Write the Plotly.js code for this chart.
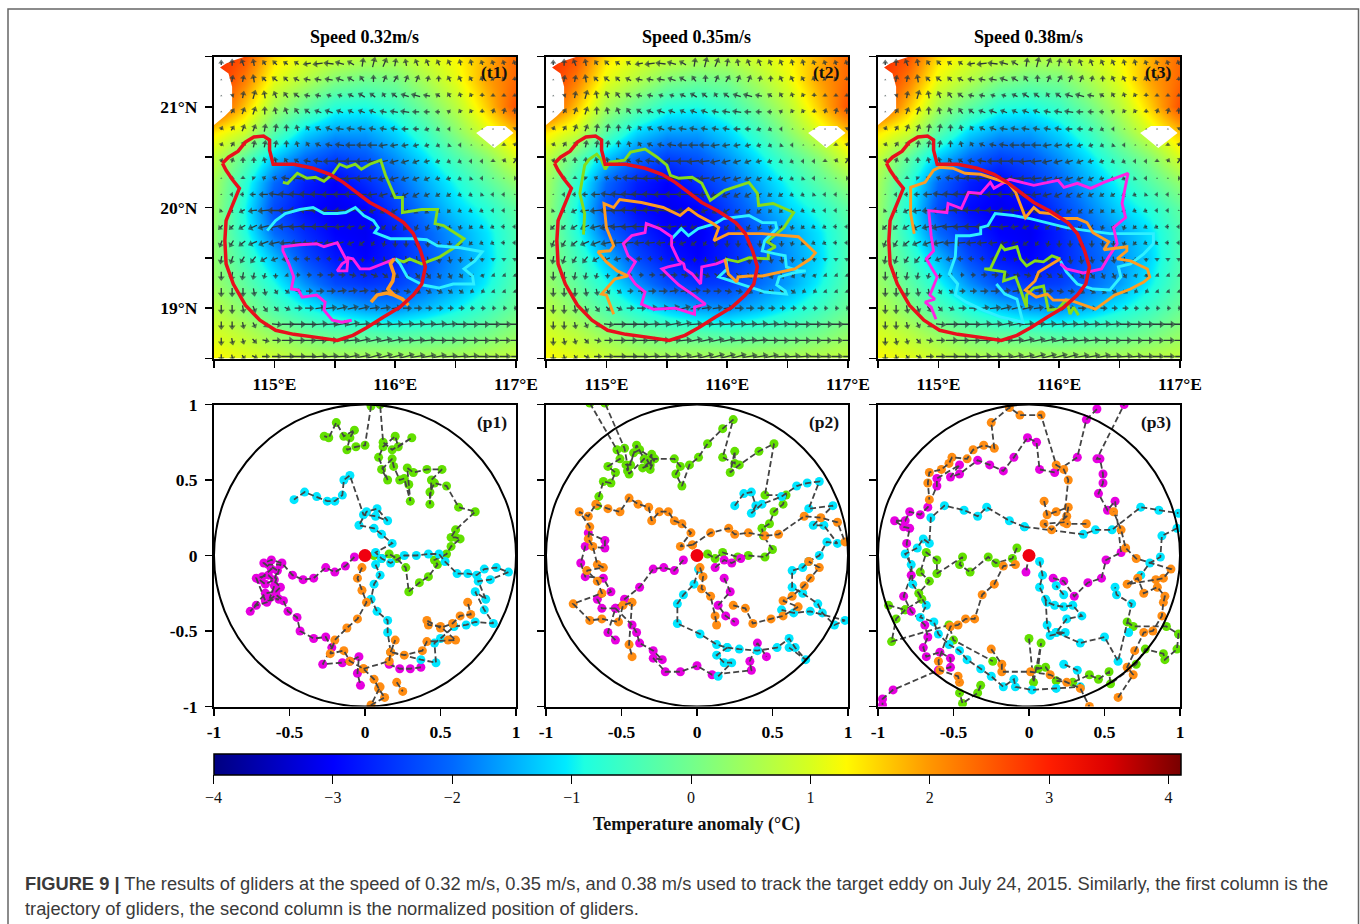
<!DOCTYPE html>
<html><head><meta charset="utf-8"><script src="https://cdn.plot.ly/plotly-3.0.1.min.js"></script>
<style>html,body{margin:0;padding:0;background:#fff}#c{width:1360px;height:924px}</style></head><body><div id="c"></div>
<script>
const lonGrid=[114.5,114.75,115,115.25,115.5,115.75,116,116.25,116.5,116.75,117];
const latGrid=[21.5,21.25,21,20.75,20.5,20.25,20,19.75,19.5,19.25,19,18.75,18.5];
const anomaly=[
[2.9,2.6,1.5,1.1,0.9,0.7,0.7,1.0,1.3,1.8,2.4],
[3,2.2,1.1,0.6,0.1,-0.1,0,0.5,1.1,1.9,2.4],
[2.8,1.7,0.5,-0.2,-0.8,-0.9,-0.6,0,0.7,1.6,2.6],
[1.4,0.9,-0.3,-1.2,-1.6,-1.6,-1.2,-0.6,0.2,1.0,1.7],
[0.8,-0.2,-1.3,-2.0,-2.4,-2.2,-1.7,-1.1,-0.4,0.2,1.0],
[0.5,-0.7,-2.0,-2.7,-3,-2.6,-2.1,-1.5,-0.9,-0.3,0.3],
[0.4,-0.9,-2.3,-2.9,-3.1,-3,-2.4,-1.8,-1.2,-0.8,-0.2],
[0.3,-0.8,-2,-2.6,-3,-3.1,-2.7,-2.1,-1.6,-1.1,-0.4],
[0.3,-0.5,-1.4,-2.3,-2.8,-3,-2.7,-2.2,-1.7,-1.2,-0.4],
[0.4,-0.2,-0.9,-1.7,-2.3,-2.5,-2.4,-2,-1.6,-1,-0.3],
[0.7,0.2,-0.4,-0.9,-1.3,-1.6,-1.7,-1.4,-1,-0.6,-0.1],
[1,0.7,0.3,0,-0.2,-0.3,-0.4,-0.3,-0.2,0,0.3],
[1.3,1.1,0.9,0.7,0.6,0.6,0.6,0.6,0.6,0.7,0.8]];
const landLon=[114.5,114.76,114.66,114.6,114.55,114.62,114.65,114.65,114.59,114.5];
const landLat=[21.5,21.5,21.46,21.43,21.39,21.33,21.2,20.98,20.91,20.82];
const holeLon=[116.67,116.76,116.91,116.98,116.82,116.67];
const holeLat=[20.74,20.81,20.81,20.74,20.59,20.74];
const arrowLon=[114.56,114.65,114.74,114.83,114.92,115.01,115.1,115.19,115.28,115.37,115.46,115.55,115.64,115.73,115.82,115.91,116,116.09,116.18,116.27,116.36,116.45,116.54,116.63,116.72,116.81,116.9,116.99];
const arrowLat=[21.43,21.27,21.11,20.95,20.78,20.62,20.46,20.29,20.13,19.97,19.81,19.65,19.49,19.33,19.17,19,18.84,18.68,18.52];
const arrowU=[
[0,0,-2,-1,-2,-3,-3,-3,-6,-8,-8,-7,-5,1,2,3,1,-1,-2,-2,-2,-2,-1,-1,-1,-1,-1,-1],
[0,1,1,-1,-3,-4,-3,-4,-5,-5,-6,-6,-5,-3,0,2,3,2,2,1,0,-2,-2,-2,-1,-1,-1,0],
[0,1,1,2,-1,-2,-3,-4,-4,-4,-3,-3,-4,-5,-4,-2,-4,-6,-7,-5,-3,-2,-1,-1,0,0,0,0],
[0,2,2,2,0,-1,-2,-3,-4,-5,-6,-5,-4,-5,-5,-5,-6,-7,-5,-4,-3,-2,-1,-1,0,1,1,0],
[1,2,2,2,1,1,0,-1,-2,-4,-5,-6,-6,-6,-5,-5,-5,-5,-4,-3,-2,-1,0,0,0,0,0,1],
[1,2,2,1,1,1,0,-1,-2,-4,-5,-7,-8,-8,-8,-7,-6,-5,-4,-3,-2,-1,-1,0,0,0,0,1],
[1,1,0,0,-1,-1,-2,-3,-5,-7,-9,-10,-10,-10,-9,-8,-7,-6,-5,-4,-3,-2,-2,-1,-1,0,1,3],
[0,0,0,-1,-2,-3,-6,-9,-11,-12,-12,-12,-11,-10,-9,-8,-7,-6,-5,-4,-3,-3,-2,-1,-1,0,0,1],
[0,-1,-2,-4,-7,-9,-11,-12,-13,-13,-12,-11,-10,-9,-8,-7,-6,-5,-5,-4,-3,-3,-2,-2,-1,-1,-1,0],
[-1,-2,-4,-7,-9,-11,-12,-13,-13,-12,-11,-9,-8,-7,-5,-5,-5,-4,-3,-3,-2,-2,-2,-2,-2,-1,-1,0],
[-3,-3,-5,-7,-9,-11,-12,-12,-12,-11,-10,-8,-6,-5,-4,-3,-3,-3,-2,-2,-1,-1,-1,-2,-2,-2,-2,-1],
[-2,-3,-5,-7,-8,-9,-9,-9,-8,-8,-7,-6,-5,-4,-2,-1,0,0,0,0,0,0,-1,-2,-2,-2,-2,-1],
[-1,-2,-3,-4,-5,-5,-5,-4,-4,-3,-3,-2,-1,0,0,1,2,1,1,1,1,1,0,0,0,0,0,0],
[0,-1,-1,-1,-1,0,1,2,3,4,5,5,5,5,5,4,4,4,3,3,2,2,2,1,1,1,1,1],
[0,0,0,1,1,2,3,4,5,6,7,7,7,7,6,6,5,5,4,4,4,3,3,2,2,1,1,1],
[0,0,1,2,3,3,4,6,7,8,9,9,9,9,8,8,8,7,6,5,5,4,4,3,3,2,2,2],
[0,0,1,2,3,8,11,12,12,12,12,12,11,11,11,11,11,11,11,11,11,10,10,10,10,10,10,10],
[0,1,1,3,5,7,10,11,11,11,11,11,11,11,11,11,11,11,11,11,11,10,10,10,10,9,9,9],
[0,1,2,4,6,8,11,12,12,12,12,12,11,11,12,12,12,12,12,12,11,11,11,10,10,9,9,8]];
const arrowV=[
[3,5,5,5,3,3,2,2,-1,-1,1,2,3,7,8,7,6,5,5,5,4,4,4,4,3,3,3,3],
[0,5,5,6,3,3,3,2,1,1,1,2,3,4,5,5,5,5,5,4,4,4,4,3,3,2,2,2],
[0,1,5,7,6,5,4,3,1,1,1,1,2,3,3,3,3,2,2,1,2,3,3,2,2,1,1,1],
[0,3,5,6,6,5,5,4,3,2,2,2,2,2,2,1,1,1,0,0,0,1,2,2,2,3,4,4],
[2,3,5,5,6,6,5,4,3,2,2,1,1,1,1,1,1,0,0,-1,-1,0,0,0,0,0,0,1],
[2,3,4,5,5,5,5,4,3,2,1,1,0,0,0,-1,-1,-1,-1,-1,-1,-1,0,0,0,0,1,2],
[2,3,4,4,4,4,3,2,1,1,0,0,0,-1,-1,-2,-2,-2,-2,-1,-1,-1,-1,0,0,1,2,4],
[0,1,1,1,1,1,1,1,1,0,0,0,-1,-1,-1,-2,-2,-2,-2,-2,-1,-1,-1,-1,0,0,0,0],
[0,0,0,0,0,1,1,1,1,1,0,0,0,0,-1,-2,-3,-3,-3,-2,-2,-2,-1,-1,-1,0,0,0],
[-1,-1,-2,-1,-1,0,0,1,1,1,1,0,0,-1,-2,-3,-3,-3,-3,-3,-2,-2,-1,-1,-1,0,0,0],
[-3,-3,-3,-3,-2,-2,-1,-1,0,0,0,-1,-1,-2,-2,-3,-4,-4,-4,-4,-3,-3,-3,-2,-1,-1,0,0],
[-5,-5,-4,-3,-3,-2,-1,-1,-1,-1,-1,-2,-2,-3,-3,-4,-5,-5,-5,-5,-4,-4,-3,-2,-1,-1,0,0],
[-6,-6,-5,-5,-3,-2,-1,0,0,0,0,-1,-2,-3,-4,-5,-5,-6,-6,-5,-5,-5,-4,-3,-2,-1,-1,-1],
[-7,-7,-6,-5,-4,-3,-1,0,0,0,0,0,-1,-1,-2,-3,-3,-4,-4,-4,-4,-4,-3,-2,-2,-1,-1,-1],
[-7,-7,-7,-6,-5,-3,-2,0,0,0,0,1,1,1,0,0,-1,-1,-2,-2,-2,-2,-2,-1,-1,-1,-1,-1],
[-7,-7,-6,-5,-4,-3,-2,0,0,1,1,2,2,2,1,1,1,0,0,0,0,0,0,0,0,0,0,0],
[-6,-6,-5,-4,-3,-1,0,0,0,1,1,2,2,1,1,1,1,1,1,1,1,1,0,0,0,0,0,0],
[-6,-5,-4,-3,-1,0,0,0,0,0,0,1,1,2,2,2,2,1,1,1,0,0,0,0,0,0,0,0],
[-5,-4,-3,-2,0,0,0,0,0,1,1,1,2,2,3,3,3,3,2,2,2,1,1,1,0,0,0,0]];
const eddyLon=[114.57,114.62,114.7,114.76,114.83,114.91,114.96,114.96,114.99,115.16,115.32,115.46,115.57,115.68,115.79,115.93,116.07,116.15,116.21,116.25,116.22,116.15,116.04,115.9,115.77,115.65,115.52,115.35,115.16,115.01,114.88,114.76,114.66,114.6,114.59,114.6,114.67,114.71,114.65,114.6,114.57];
const eddyLat=[20.44,20.5,20.56,20.65,20.7,20.71,20.67,20.57,20.43,20.43,20.39,20.33,20.25,20.15,20.05,19.96,19.85,19.74,19.57,19.41,19.24,19.13,19.01,18.91,18.81,18.73,18.68,18.71,18.74,18.78,18.88,19.03,19.24,19.44,19.67,19.87,20.07,20.19,20.28,20.37,20.44];
const t1GreenLon=[115.07,115.11,115.19,115.27,115.34,115.41,115.48,115.54,115.6,115.67,115.72,115.79,115.88,115.92,116,116.06,116.06,116.15,116.22,116.35,116.33,116.4,116.51,116.57,116.5,116.37,116.22,116.12,116.07,116];
const t1GreenLat=[20.25,20.24,20.34,20.29,20.3,20.26,20.33,20.43,20.4,20.43,20.38,20.43,20.47,20.32,20.1,20.1,19.95,19.97,19.98,19.98,19.84,19.82,19.74,19.69,19.61,19.51,19.44,19.49,19.46,19.49];
const t1CyanLon=[114.94,115.01,115.09,115.21,115.32,115.41,115.52,115.59,115.67,115.74,115.82,115.86,115.83,115.96,116.15,116.26,116.35,116.54,116.72,116.66,116.57,116.64,116.65,116.48,116.36,116.23,116.1,116.04,116];
const t1CyanLat=[19.77,19.87,19.94,19.98,20,19.94,19.94,19.95,20,19.92,19.87,19.8,19.75,19.69,19.69,19.68,19.62,19.6,19.56,19.47,19.39,19.32,19.24,19.24,19.2,19.23,19.31,19.44,19.49];
const t1MagentaLon=[115.64,115.56,115.48,115.41,115.42,115.35,115.23,115.2,115.14,115.16,115.12,115.07,115.07,115.21,115.35,115.41,115.52,115.57,115.6,115.56,115.52,115.6,115.61,115.65,115.71,115.79,115.89,116];
const t1MagentaLat=[18.88,18.86,18.88,18.98,19.06,19.13,19.11,19.18,19.19,19.31,19.44,19.57,19.61,19.63,19.64,19.61,19.65,19.54,19.47,19.44,19.37,19.37,19.5,19.49,19.39,19.39,19.44,19.49];
const t1OrangeLon=[115.99,115.96,115.99,115.98,115.94,115.99,116.06,116.11,116.06,115.99,115.93,115.85,115.8];
const t1OrangeLat=[19.49,19.44,19.34,19.27,19.19,19.13,19.09,19.03,19.09,19.13,19.15,19.13,19.06];
const t2GreenLon=[114.81,114.82,114.78,114.8,114.82,114.86,114.92,114.96,114.99,115.03,115.15,115.2,115.32,115.42,115.5,115.53,115.6,115.71,115.79,115.86,115.98,116.18,116.25,116.26,116.38,116.55,116.47,116.33,116.4,116.34,116.34,116.18,116.09,115.98];
const t2GreenLat=[19.73,19.94,20.14,20.28,20.42,20.48,20.53,20.47,20.38,20.45,20.47,20.55,20.58,20.5,20.42,20.32,20.29,20.3,20.24,20.07,20.17,20.25,20.14,20.02,20.04,19.95,19.8,19.66,19.61,19.57,19.49,19.5,19.46,19.49];
const t2OrangeLon=[115.06,115,114.96,115.03,115.07,115.18,115.09,115,114.93,115.03,115.06,115,114.98,115.06,115.11,115.29,115.47,115.61,115.68,115.76,115.87,115.93,115.89,116.01,116.29,116.59,116.65,116.73,116.69,116.56,116.29,116.18,116.09,116.08,116.01,115.98];
const t2OrangeLat=[18.94,19.13,19.14,19.24,19.29,19.32,19.37,19.46,19.56,19.57,19.62,19.8,20.04,20,20.08,20.05,20,19.92,19.99,19.92,19.85,19.8,19.67,19.74,19.74,19.71,19.64,19.55,19.49,19.39,19.32,19.32,19.31,19.26,19.34,19.49];
const t2CyanLon=[115.54,115.62,115.68,115.76,115.9,115.97,116.18,116.29,116.4,116.41,116.31,116.29,116.4,116.48,116.49,116.59,116.65,116.55,116.43,116.41,116.48,116.49,116.31,116.18,116.04,115.93,116,115.99];
const t2CyanLat=[19.69,19.79,19.72,19.79,19.84,19.89,19.92,19.85,19.85,19.79,19.67,19.57,19.54,19.52,19.41,19.37,19.37,19.35,19.31,19.23,19.17,19.14,19.16,19.21,19.26,19.31,19.39,19.49];
const t2MagentaLon=[115.99,115.91,115.79,115.78,115.71,115.65,115.64,115.6,115.54,115.54,115.44,115.33,115.32,115.21,115.14,115.18,115.24,115.18,115.24,115.32,115.29,115.39,115.57,115.73,115.73,115.82,115.71,115.6,115.53,115.46,115.51,115.62];
const t2MagentaLat=[19.48,19.44,19.41,19.24,19.34,19.39,19.44,19.47,19.62,19.71,19.79,19.84,19.75,19.72,19.64,19.52,19.46,19.34,19.24,19.16,19.04,18.99,19,18.94,19.01,19.04,19.14,19.23,19.31,19.39,19.41,19.44];
const t3OrangeLon=[114.8,114.77,114.77,114.89,114.96,115.01,115.12,115.22,115.35,115.5,115.58,115.64,115.68,115.72,115.79,115.84,115.93,116,116.15,116.23,116.28,116.34,116.41,116.37,116.56,116.56,116.48,116.59,116.73,116.75,116.7,116.59,116.46,116.38,116.3,116.09,115.95,115.9,115.81,115.72,115.8,115.83,115.9,116.01];
const t3OrangeLat=[19.74,19.94,20.2,20.25,20.37,20.4,20.39,20.34,20.33,20.27,20.24,20.15,20.02,19.9,20,19.95,19.94,19.89,19.89,19.85,19.75,19.71,19.66,19.58,19.61,19.57,19.49,19.47,19.39,19.31,19.26,19.19,19.13,19.06,18.99,19.08,19.08,19.14,19.11,19.18,19.27,19.36,19.41,19.49];
const t3MagentaLon=[114.98,114.94,114.89,114.97,114.93,114.99,114.94,114.9,114.96,114.94,114.92,115.07,115.08,115.19,115.25,115.35,115.43,115.46,115.59,115.79,115.99,116.04,116.15,116.26,116.37,116.57,116.52,116.55,116.45,116.48,116.41,116.35,116.2,116.06,116.01];
const t3MagentaLat=[18.89,19.01,19.06,19.09,19.13,19.31,19.41,19.49,19.57,19.72,19.97,19.95,20.04,19.99,20.15,20.14,20.25,20.19,20.28,20.22,20.27,20.2,20.24,20.19,20.25,20.34,20.04,19.9,19.8,19.64,19.51,19.39,19.35,19.39,19.44];
const t3CyanLon=[115.48,115.55,115.65,115.7,115.52,115.37,115.23,115.14,115.16,115.09,115.14,115.15,115.26,115.35,115.35,115.41,115.47,115.62,115.76,115.93,116.06,116.23,116.42,116.78,116.78,116.7,116.59,116.49,116.51,116.42,116.28,116.15,116.06,116.01];
const t3CyanLat=[19.24,19.14,19.09,18.86,18.91,18.98,19.06,19.13,19.24,19.34,19.51,19.72,19.72,19.74,19.8,19.82,19.94,19.92,19.89,19.84,19.8,19.77,19.74,19.74,19.64,19.54,19.44,19.41,19.31,19.18,19.19,19.24,19.36,19.47];
const t3GreenLon=[116.01,115.94,115.87,115.8,115.73,115.68,115.65,115.55,115.52,115.46,115.43,115.38,115.5,115.55,115.54,115.64,115.68,115.73,115.73,115.79,115.87,115.89,115.91,115.99,116.06,116.09,116.12,116.16];
const t3GreenLat=[19.49,19.52,19.46,19.47,19.42,19.49,19.61,19.58,19.62,19.47,19.39,19.39,19.37,19.36,19.27,19.31,19.18,19.01,19.13,19.2,19.22,19.09,18.98,18.99,19.09,18.94,19.01,18.93];
const _=null;
const p1GreenX=[.06,.11,.16,.21,.27,.29,.36,.42,.48,.46,.54,.57,.63,.6,.57,.6,.73,.62,.54,.46,.43,.43,.44,.51,.41,.32,.28,.29,.3,.26,.23,.19,.18,.11,.15,.09,.12,.2,.22,.31,.18,.12,.1,_,.04,0,-.06,-.12,-.1,-.07,-.14,-.19,-.24,-.27];
const p1GreenY=[0,-.02,.01,-.02,-.08,-.24,-.18,-.14,-.06,-.03,.01,.06,.11,.12,.12,.17,.29,.32,.46,.48,.42,.34,.5,.57,.57,.55,.58,.47,.36,.51,.5,.59,.64,.57,.5,.65,.72,.79,.72,.78,.7,.75,1,_,.99,.73,.72,.7,.78,.83,.79,.88,.78,.79];
const p1MagentaX=[-.07,-.13,-.2,-.26,-.34,-.41,-.48,-.55,-.62,-.67,-.62,-.68,-.7,-.66,-.6,-.58,-.64,-.56,-.6,-.63,-.57,-.66,-.72,-.64,-.56,-.59,-.66,-.76,-.72,-.65,-.59,-.54,-.51,-.45,-.43,-.34,-.26,-.22,-.28,-.15,-.1,-.04,-.05,-.03,_,.16,.23,.3,.37];
const p1MagentaY=[-.01,-.07,-.11,-.08,-.15,-.16,-.13,-.05,-.03,-.05,-.09,-.14,-.16,-.19,-.16,-.1,-.06,-.06,-.2,-.28,-.29,-.3,-.15,-.13,-.21,-.24,-.25,-.37,-.33,-.31,-.26,-.3,-.37,-.41,-.5,-.55,-.54,-.61,-.72,-.71,-.7,-.67,-.78,-.86,_,-.72,-.75,-.75,-.74];
const p1OrangeX=[-.02,-.05,-.02,.01,-.05,-.12,-.2,-.23,-.14,-.1,-.01,.06,.09,.13,.04,.1,_,-.01,.16,.17,.2,.17,.26,.38,.41,.55,.6,.5,.42,.41,.5,.58,.63,.7,.68,_,.21,.25];
const p1OrangeY=[-.08,-.15,-.23,-.31,-.42,-.48,-.56,-.65,-.63,-.7,-.75,-.82,-.88,-.94,-.99,-.87,_,-.75,-.7,-.64,-.56,-.64,-.66,-.63,-.57,-.56,-.56,-.47,-.46,-.43,-.48,-.45,-.4,-.39,-.31,_,-.84,-.9];
const p1CyanX=[.07,.1,.06,.04,.08,.15,.15,.17,.37,.47,.46,.5,.59,.67,.73,.85,.79,.73,.8,.75,.83,.95,.87,.79,.74,.68,.61,.53,.49,.42,.34,.26,.17,.11,.07,.18,.11,.06,-.04,.01,.08,.15,.07,-.01,-.1,-.14,-.15,-.2,-.25,-.32,-.4,-.47];
const p1CyanY=[-.06,-.13,-.19,-.29,-.37,-.43,-.51,-.64,-.69,-.71,-.58,-.55,-.47,-.46,-.44,-.45,-.36,-.24,-.29,-.17,-.16,-.11,-.08,-.09,-.13,-.12,-.12,-.04,.01,.01,0,0,-.05,-.02,.02,.08,.14,.18,.2,.29,.31,.23,.26,.27,.53,.5,.4,.36,.36,.39,.42,.37];
const p2GreenX=[.07,.12,.17,.27,.34,.45,.5,.44,.43,.48,.51,.57,.59,.45,.51,.41,.28,.22,.25,.25,.17,.24,.17,.07,.01,-.05,-.1,-.14,-.11,-.15,-.28,-.31,-.3,-.33,-.31,-.36,-.29,-.38,-.42,-.44,-.47,-.46,-.4,-.35,-.45,-.48,-.61,_,-.71,-.53,-.51,-.59,-.54,-.57,-.62,-.65,-.66];
const p2GreenY=[.01,-.02,.02,-.01,0,-.01,.04,.13,.18,.21,.29,.34,.4,.4,.74,.69,.6,.55,.69,.61,.65,.9,.84,.74,.65,.6,.46,.54,.59,.64,.64,.57,.67,.63,.6,.58,.64,.7,.68,.6,.6,.56,.73,.64,.54,.71,1.01,_,1.01,.7,.64,.59,.55,.48,.49,.39,.33];
const p2OrangeX=[.02,.04,.03,.09,.12,.13,_,-.03,-.11,-.04,-.1,-.15,-.19,-.25,-.3,-.32,-.39,-.45,-.51,-.59,-.67,-.72,-.78,-.71,-.72,-.69,-.66,-.62,-.73,-.66,-.63,-.82,-.71,-.63,-.52,-.49,-.43,-.45,-.43,_,-.03,.09,.21,.25,.34,.45,.54,.71,.82,.93,.98,_,.24,.32,.37,.49,.57,.67,.57,.63,.71,.75,.81,.74];
const p2OrangeY=[-.08,-.14,-.22,-.27,-.4,-.46,_,.07,.06,.15,.21,.23,.29,.29,.23,.32,.34,.38,.29,.31,.34,.26,.29,.19,.11,.06,-.06,-.08,-.1,-.17,-.25,-.32,-.43,-.42,-.44,-.33,-.31,-.59,-.67,_,.07,.15,.18,.14,.15,.13,.14,.26,.25,.22,.09,_,-.33,-.35,-.45,-.42,-.4,-.34,-.3,-.27,-.2,-.15,-.08,-.04];
const p2MagentaX=[-.09,-.15,-.22,-.29,-.38,-.48,-.54,-.43,-.4,-.38,-.29,-.23,-.29,-.21,-.11,0,.1,.36,.35,.4,.46,_,-.54,-.59,-.54,-.63,-.66,-.57,-.62,-.74,-.77,-.74,-.61,-.61,-.72,_,.12,.18,.23,.29,_,.18,.22,.14,.19,.25];
const p2MagentaY=[-.03,-.1,-.08,-.09,-.21,-.29,-.35,-.46,-.51,-.58,-.63,-.69,-.68,-.77,-.77,-.73,-.79,-.76,-.7,-.58,-.67,_,-.56,-.51,-.35,-.35,-.29,-.24,-.15,-.14,-.05,.06,.05,.1,.15,_,-.08,-.03,-.05,-.02,_,-.15,-.24,-.33,-.4,-.44];
const p2CyanX=[.01,-.02,-.09,-.13,-.13,.02,.13,.2,.28,.4,.53,.61,.65,.72,.61,_,.14,.23,.18,.13,.2,_,.25,.31,.36,.39,.36,.43,.56,.66,.73,.81,.74,.9,.77,.84,.93,.86,.81,.74,.7,.63,.63,.7,.8,.83,.91,.98,.75,.64,.56];
const p2CyanY=[-.09,-.19,-.26,-.32,-.45,-.52,-.59,-.61,-.62,-.63,-.61,-.55,-.61,-.69,-.61,_,-.8,-.71,-.71,-.66,-.61,_,.33,.41,.42,.33,.28,.34,.39,.46,.48,.49,.31,.33,.2,.2,.08,.09,0,-.04,-.08,-.1,-.21,-.25,-.32,-.38,-.46,-.43,-.37,-.38,-.36];
const p3OrangeX=[-.09,-.17,-.23,-.31,-.36,-.42,-.47,-.52,-.6,-.59,-.47,-.46,_,.1,.12,.18,.26,.25,.15,.1,.23,.26,.23,.18,.08,-.06,-.13,-.25,-.23,-.3,-.37,-.41,-.51,-.53,-.58,-.66,-.67,-.66,_,.38,.25,_,-.25,-.18,-.18,.01,.14,.25,.34,.4,_,.59,.69,.65,.7,.76,.82,.88,.89,.9,.85,.76,.72,.65,.84,.89,.94,.71,.64,.61,.56];
const p3OrangeY=[-.06,-.07,-.19,-.26,-.42,-.42,-.46,-.47,-.7,-.76,-.8,-.84,_,.36,.27,.29,.32,.26,.17,.21,.22,.5,.57,.6,.93,.93,.98,.88,.71,.73,.7,.64,.65,.61,.57,.55,.48,.37,_,.21,.21,_,-.62,-.72,-.77,-.77,-.79,-.84,-.88,-1,_,-.94,-.79,-.74,-.63,-.51,-.5,-.4,-.31,-.27,-.21,-.25,-.15,-.19,-.16,-.15,-.09,-.02,.05,.17,.29];
const p3CyanX=[.07,.09,.07,.12,.17,.23,.29,.35,.25,.18,.24,.14,.12,.11,_,.23,.18,_,.18,.34,.5,.59,.68,.58,.57,_,.66,_,-.03,-.13,-.28,-.34,-.43,-.56,-.65,-.66,-.7,-.74,-.82,-.78,-.77,-.68,-.72,-.63,-.6,-.53,-.46,-.41,-.32,-.25,-.17,-.1,-.09,.02,.18,.34,.32,.23,_,-.03,.36,.44,.55,.74,.86,.99,_,.98,.88,.87,.8,.74];
const p3CyanY=[-.04,-.13,-.21,-.31,-.33,-.34,-.33,-.4,-.42,-.51,-.51,-.53,-.46,-.29,_,-.26,-.2,_,-.51,-.58,-.54,-.7,-.32,-.26,-.21,_,-.51,_,.19,.23,.32,.26,.3,.33,.25,.08,.11,.05,.01,-.06,-.19,-.33,-.41,-.44,-.52,-.59,-.63,-.69,-.75,-.8,-.87,-.82,-.87,-.89,-.88,-.87,-.76,-.72,_,.19,.14,.17,.17,.32,.3,.28,_,.18,.13,-.01,-.05,-.13];
const p3MagentaX=[0,-.02,_,.16,.23,.3,.39,.48,.51,.61,.57,.52,.46,.49,.49,.47,.45,.63,_,.45,.38,.32,.17,.07,.05,-.01,-.1,-.17,-.26,-.34,-.46,-.52,-.46,-.61,-.61,-.67,-.72,-.79,-.82,-.89,-.83,-.79,-.81,-.78,-.83,-.78,-.69,-.67,-.7,-.68,-.59,-.52,-.52,-.6,-.9,-.97,-.97];
const p3MagentaY=[0,-.11,_,-.15,-.17,-.27,-.18,-.15,-.03,.02,.36,.3,.41,.48,.54,.64,.64,1,_,.97,.9,.65,.55,.57,.75,.78,.65,.56,.6,.63,.54,.52,.6,.51,.46,.32,.27,.29,.23,.23,.19,.18,.08,-.13,-.27,-.37,-.46,-.54,-.61,-.67,-.64,-.68,-.74,-.76,-.89,-.95,-.99];
const p3GreenX=[-.08,-.11,-.22,-.27,-.39,-.46,-.44,-.61,-.61,-.68,-.72,-.66,-.73,-.71,-.82,-.88,-.91,-.53,-.5,-.24,_,-.93,-.82,_,0,.03,.08,.06,.11,.18,.29,.4,.46,.53,.54,.71,.77,.89,.9,.98,.99,.91,.69,.65,_,-.32,-.34,-.44,-.46];
const p3GreenY=[.05,-.02,-.05,-.01,-.11,-.06,-.01,-.12,-.03,.02,-.11,-.17,-.25,-.29,-.36,-.42,-.57,-.46,-.56,-.7,_,-.33,-.36,_,-.55,-.84,-.58,-.75,-.74,-.83,-.84,-.79,-.82,-.77,-.85,-.72,-.62,-.65,-.69,-.62,-.52,-.47,-.47,-.44,_,-.86,-.91,-.98,-.91];
const anomalyTicks=[-4,-3,-2,-1,0,1,2,3,4];
const panelLabels=['(t1)','(t2)','(t3)','(p1)','(p2)','(p3)'];
const speedTitles=['Speed 0.32m/s','Speed 0.35m/s','Speed 0.38m/s'];

const W=1360,H=924,SERIF='"Liberation Serif",serif';
const px=x=>x/W, py=y=>1-y/H;
const colX=[[214,516],[546,848],[878,1180]];
const rowY=[[56.5,358.5],[404.5,706.5]];
const cols={g:'#62e000',c:'#00e6ff',m:'#e600e0',o:'#ff8c12'};
const lineCols={g:'#86dd1a',c:'#2ff0ff',m:'#ff22e4',o:'#ff9c22'};
const traces=[];
const scale=[[0,'rgb(0,0,128)'],[.1235,'rgb(0,0,255)'],[.247,'rgb(0,105,255)'],[.364,'rgb(0,235,255)'],[.383,'rgb(30,255,225)'],[.494,'rgb(115,255,140)'],[.617,'rgb(215,255,30)'],[.654,'rgb(255,250,0)'],[.741,'rgb(255,150,0)'],[.864,'rgb(255,30,0)'],[.926,'rgb(220,0,0)'],[1,'rgb(120,0,0)']];
const sx=[],sy=[],hx=[],hy=[],ha=[],hs=[];
arrowLat.forEach((la,r)=>arrowLon.forEach((lo,c)=>{
  const u=arrowU[r][c],v=arrowV[r][c],du=u*.9/121,dv=v*.9/100.5,len=Math.hypot(u,v);
  sx.push(lo-du/2,lo+du/2,null);sy.push(la-dv/2,la+dv/2,null);
  hx.push(lo+du/2);hy.push(la+dv/2);ha.push(Math.atan2(u,v)*180/Math.PI);hs.push(len<1?2:4.5+Math.min(len,10)*.22);
}));
[0,1,2].forEach(i=>{
  const ax=i?String(i+1):'',xa='x'+ax,ya='y'+ax;
  const hm={type:'heatmap',x:lonGrid,y:latGrid,z:anomaly,xaxis:xa,yaxis:ya,zmin:-4,zmax:4.1,zsmooth:'best',colorscale:scale,showscale:i===0,hoverinfo:'skip'};
  if(i===0)hm.colorbar={orientation:'h',x:px(213.5),xanchor:'left',y:py(754),yanchor:'top',len:967,lenmode:'pixels',thickness:21,thicknessmode:'pixels',xpad:0,ypad:0,outlinewidth:1.5,outlinecolor:'#000',tickmode:'array',tickvals:anomalyTicks,ticks:'outside',ticklen:9,tickcolor:'#000',tickfont:{family:SERIF,size:16,color:'#111'}};
  traces.push(hm);
  [[landLon,landLat],[holeLon,holeLat]].forEach(([a,b])=>traces.push({type:'scatter',x:a,y:b,xaxis:xa,yaxis:ya,mode:'lines',fill:'toself',fillcolor:'#fff',line:{width:0},hoverinfo:'skip'}));
  traces.push({type:'scatter',x:sx,y:sy,xaxis:xa,yaxis:ya,mode:'lines',line:{color:'#2c3a3a',width:1.3},hoverinfo:'skip',connectgaps:false});
  traces.push({type:'scatter',x:hx,y:hy,xaxis:xa,yaxis:ya,mode:'markers',marker:{symbol:'triangle-up',size:hs,angle:ha,color:'#2c3a3a',line:{width:0}},hoverinfo:'skip'});
});
function tline(i,lon,lat,c,w){const ax=i?String(i+1):'';traces.push({type:'scatter',x:lon,y:lat,xaxis:'x'+ax,yaxis:'y'+ax,mode:'lines',line:{color:c,width:w||2.9},hoverinfo:'skip'});}
tline(0,t1GreenLon,t1GreenLat,lineCols.g);tline(0,t1CyanLon,t1CyanLat,lineCols.c);tline(0,t1MagentaLon,t1MagentaLat,lineCols.m);tline(0,t1OrangeLon,t1OrangeLat,lineCols.o,3.6);
tline(1,t2GreenLon,t2GreenLat,lineCols.g);tline(1,t2CyanLon,t2CyanLat,lineCols.c);tline(1,t2MagentaLon,t2MagentaLat,lineCols.m);tline(1,t2OrangeLon,t2OrangeLat,lineCols.o);
tline(2,t3CyanLon,t3CyanLat,lineCols.c);tline(2,t3MagentaLon,t3MagentaLat,lineCols.m);tline(2,t3GreenLon,t3GreenLat,lineCols.g);tline(2,t3OrangeLon,t3OrangeLat,lineCols.o);
[0,1,2].forEach(i=>tline(i,eddyLon,eddyLat,'#e8101c',3.5));
function pser(i,x,y,c){const ax=String(i+4);
  traces.push({type:'scatter',x:x,y:y,xaxis:'x'+ax,yaxis:'y'+ax,mode:'markers',marker:{color:c,size:9,line:{width:0}},hoverinfo:'skip'});
  traces.push({type:'scatter',x:x,y:y,xaxis:'x'+ax,yaxis:'y'+ax,mode:'lines',line:{color:'#444',width:1.8,dash:'6px,3px'},hoverinfo:'skip'});}
pser(0,p1GreenX,p1GreenY,cols.g);pser(0,p1MagentaX,p1MagentaY,cols.m);pser(0,p1CyanX,p1CyanY,cols.c);pser(0,p1OrangeX,p1OrangeY,cols.o);
pser(1,p2GreenX,p2GreenY,cols.g);pser(1,p2MagentaX,p2MagentaY,cols.m);pser(1,p2CyanX,p2CyanY,cols.c);pser(1,p2OrangeX,p2OrangeY,cols.o);
pser(2,p3GreenX,p3GreenY,cols.g);pser(2,p3MagentaX,p3MagentaY,cols.m);pser(2,p3CyanX,p3CyanY,cols.c);pser(2,p3OrangeX,p3OrangeY,cols.o);
[0,1,2].forEach(i=>{const ax=String(i+4);traces.push({type:'scatter',x:[0],y:[0],xaxis:'x'+ax,yaxis:'y'+ax,mode:'markers',marker:{color:'#f0000f',size:13,line:{width:0}},hoverinfo:'skip'});});

const layout={width:W,height:H,margin:{l:0,r:0,t:0,b:0},paper_bgcolor:'#fff',plot_bgcolor:'#fff',showlegend:false,annotations:[],
 shapes:[{type:'path',xref:'paper',yref:'paper',path:`M ${px(8)} ${py(924)} L ${px(8)} ${py(9)} L ${px(1358.5)} ${py(9)} L ${px(1358.5)} ${py(924)}`,line:{color:'#666',width:1.5}}]};
const lblFont={family:SERIF,size:17.5,color:'#000',weight:700};
const axBase={showgrid:false,zeroline:false,showline:true,mirror:true,linecolor:'#000',linewidth:2,ticks:'outside',ticklen:7,tickwidth:1.5,tickcolor:'#000',tickfont:lblFont,tickmode:'array',fixedrange:true};
const lonT=[114.5,115,115.5,116,116.5,117],lonL=['','115°E','','116°E','','117°E'];
const latT=[18.5,19,19.5,20,20.5,21,21.5],latL=['','19°N','','20°N','','21°N',''];
const nT=[-1,-.5,0,.5,1],nL=['-1','-0.5','0','0.5','1'];
for(let n=0;n<6;n++){
  const c=n%3,r=n<3?0:1,ax=n?String(n+1):'';
  layout['xaxis'+ax]=Object.assign({},axBase,{domain:[px(colX[c][0]),px(colX[c][1])],anchor:'y'+ax,range:r?[-1,1]:[114.5,117],tickvals:r?nT:lonT,ticktext:r?nL:lonL,ticklabelstandoff:1});
  layout['yaxis'+ax]=Object.assign({},axBase,{domain:[py(rowY[r][1]),py(rowY[r][0])],anchor:'x'+ax,range:r?[-1,1]:[18.5,21.5],tickvals:r?nT:latT,ticktext:r?nL:latL,showticklabels:c===0,ticklabelstandoff:4});
  if(r)layout.shapes.push({type:'circle',xref:'x'+ax,yref:'y'+ax,x0:-1,x1:1,y0:-1,y1:1,line:{color:'#000',width:2},layer:'above'});
  layout.annotations.push({xref:'paper',yref:'paper',x:px(colX[c][1]-7),y:py((r?422:72)),xanchor:'right',yanchor:'middle',showarrow:false,text:'<b>'+panelLabels[n]+'</b>',font:{family:SERIF,size:17.5,color:'#111'}});
}
speedTitles.forEach((t,c)=>layout.annotations.push({xref:'paper',yref:'paper',x:px((colX[c][0]+colX[c][1])/2-1),y:py(37),xanchor:'center',yanchor:'middle',showarrow:false,text:'<b>'+t+'</b>',font:{family:SERIF,size:18,color:'#000'}}));
layout.annotations.push({xref:'paper',yref:'paper',x:px(697),y:py(824.5),xanchor:'center',yanchor:'middle',showarrow:false,text:'<b>Temperature anomaly (°C)</b>',font:{family:SERIF,size:18,color:'#111'}});
layout.annotations.push({xref:'paper',yref:'paper',x:px(22.5),y:py(883),xanchor:'left',yanchor:'middle',showarrow:false,text:'<b>FIGURE 9 |</b> The results of gliders at the speed of 0.32 m/s, 0.35 m/s, and 0.38 m/s used to track the target eddy on July 24, 2015. Similarly, the first column is the',font:{family:'"Liberation Sans",sans-serif',size:18.3,color:'#3a3a3a'}});
layout.annotations.push({xref:'paper',yref:'paper',x:px(22.5),y:py(908),xanchor:'left',yanchor:'middle',showarrow:false,text:'trajectory of gliders, the second column is the normalized position of gliders.',font:{family:'"Liberation Sans",sans-serif',size:18.3,color:'#3a3a3a'}});
Plotly.newPlot('c',traces,layout,{displayModeBar:false,staticPlot:true});
</script></body></html>
